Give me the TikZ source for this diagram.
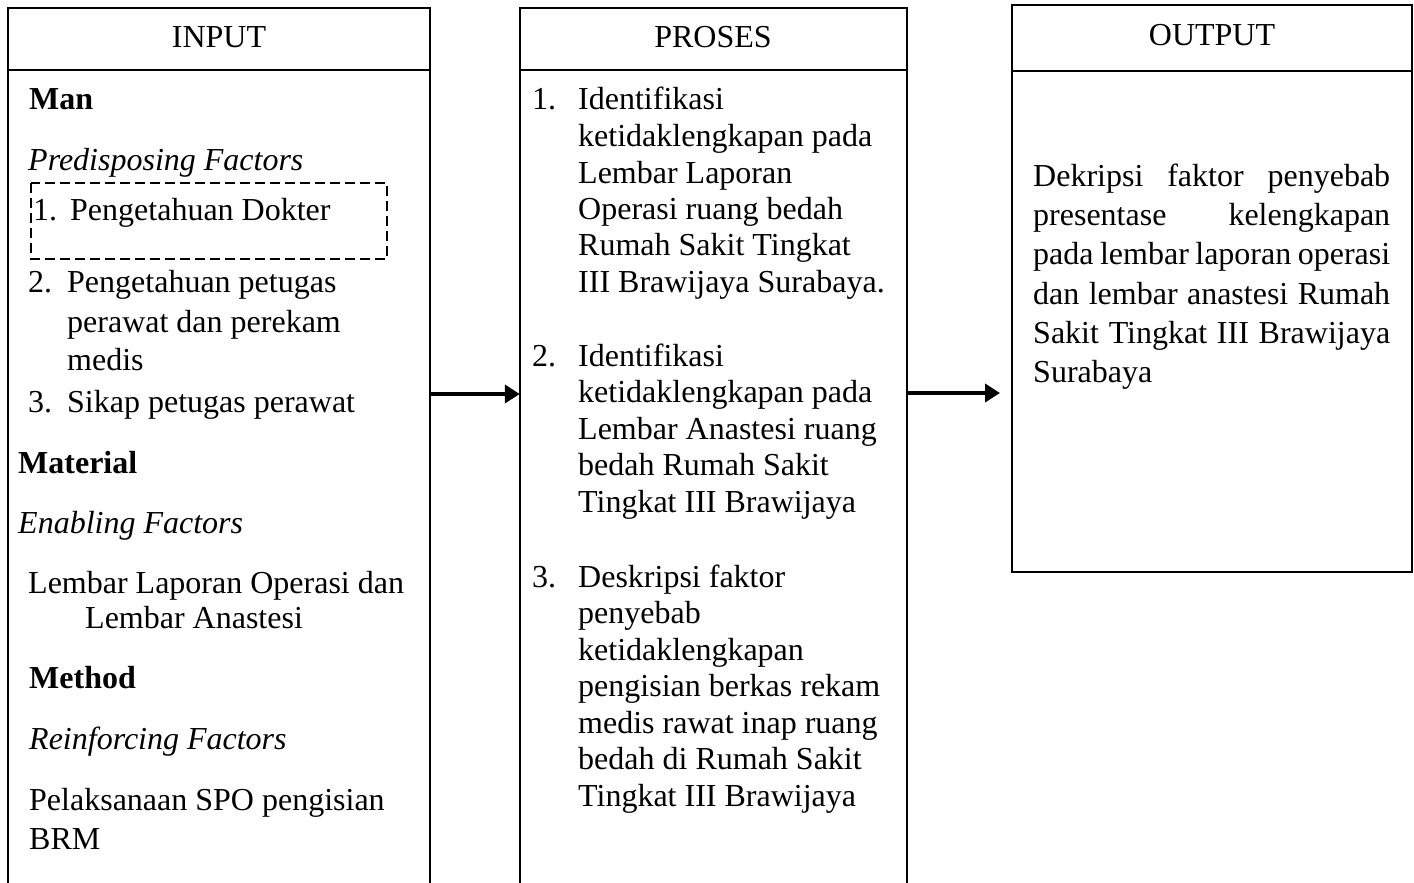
\documentclass[tikz,border=0pt]{standalone}
\usepackage{fontspec}
\setmainfont{Liberation Serif}
\usetikzlibrary{arrows.meta}
\begin{document}
\begin{tikzpicture}[x=1pt,y=-1pt,
  txt/.style={anchor=base west,inner sep=0pt,font=\fontsize{32}{38}\selectfont},
  head/.style={anchor=base,inner sep=0pt,font=\fontsize{32}{38}\selectfont},
  boxline/.style={draw,line width=1.8pt},
  dashbox/.style={draw,line width=1.3pt,dash pattern=on 10pt off 5pt},
  arr/.style={line width=4pt,-{Triangle[length=15pt,width=18pt]}}]
\useasboundingbox (0,0) rectangle (1414,883);
\clip (0,0) rectangle (1414,883);
% boxes
\draw[boxline] (8,920) -- (8,8) -- (430,8) -- (430,920);
\draw[boxline] (8,70) -- (430,70);
\draw[boxline] (520,920) -- (520,8) -- (907,8) -- (907,920);
\draw[boxline] (520,70) -- (907,70);
\draw[boxline] (1012,5) rectangle (1412,572);
\draw[boxline] (1012,71) -- (1412,71);
\node[inner sep=0pt,minimum size=0pt] (inbox) at (430,394) {};
\node[inner sep=0pt,minimum size=0pt] (prin) at (520,394) {};
\node[inner sep=0pt,minimum size=0pt] (prout) at (907,393) {};
\coordinate (outtip) at (1000,393);
\draw[arr] (inbox) -- (prin);
\draw[arr] (prout) -- (outtip);
% headers
\node[head] (hin) at (219,48) {INPUT};
\node[head] (hpr) at (713,48) {PROSES};
\node[head] (hout) at (1212,46) {OUTPUT};
% dashed box
\draw[dashbox] (31,183) rectangle (387,259);
% INPUT column
\node[txt] (i1) at (29,110) {\textbf{Man}};
\node[txt] (i2) at (28,170) {\textit{Predisposing Factors}};
\node[txt] (i3n) at (33,220) {1.};
\node[txt] (i3) at (70,220) {Pengetahuan Dokter};
\node[txt] (i4n) at (28,292) {2.};
\node[txt] (i4) at (67,292) {Pengetahuan petugas};
\node[txt] (i5) at (67,332) {perawat dan perekam};
\node[txt] (i6) at (67,370) {medis};
\node[txt] (i7n) at (28,412) {3.};
\node[txt] (i7) at (67,412) {Sikap petugas perawat};
\node[txt] (i8) at (18,473) {\textbf{Material}};
\node[txt] (i9) at (18,533) {\textit{Enabling Factors}};
\node[txt] (i10) at (28,593) {Lembar Laporan Operasi dan};
\node[txt] (i11) at (85,628) {Lembar Anastesi};
\node[txt] (i12) at (29,688) {\textbf{Method}};
\node[txt] (i13) at (29,749) {\textit{Reinforcing Factors}};
\node[txt] (i14) at (29,810) {Pelaksanaan SPO pengisian};
\node[txt] (i15) at (29,849) {BRM};
% PROSES column
\node[txt] (p1n) at (532,110) {1.};
\node[txt] (p1a) at (578,110) {Identifikasi};
\node[txt] (p1b) at (578,146.5) {ketidaklengkapan pada};
\node[txt] (p1c) at (578,183) {Lembar Laporan};
\node[txt] (p1d) at (578,219) {Operasi ruang bedah};
\node[txt] (p1e) at (578,255.5) {Rumah Sakit Tingkat};
\node[txt] (p1f) at (578,292) {III Brawijaya Surabaya.};
\node[txt] (p2n) at (532,366) {2.};
\node[txt] (p2a) at (578,366) {Identifikasi};
\node[txt] (p2b) at (578,402.5) {ketidaklengkapan pada};
\node[txt] (p2c) at (578,439) {Lembar Anastesi ruang};
\node[txt] (p2d) at (578,475.5) {bedah Rumah Sakit};
\node[txt] (p2e) at (578,512) {Tingkat III Brawijaya};
\node[txt] (p3n) at (532,587) {3.};
\node[txt] (p3a) at (578,587) {Deskripsi faktor};
\node[txt] (p3b) at (578,623.5) {penyebab};
\node[txt] (p3c) at (578,660) {ketidaklengkapan};
\node[txt] (p3d) at (578,696.5) {pengisian berkas rekam};
\node[txt] (p3e) at (578,733) {medis rawat inap ruang};
\node[txt] (p3f) at (578,769.5) {bedah di Rumah Sakit};
\node[txt] (p3g) at (578,806) {Tingkat III Brawijaya};
% OUTPUT column
\node[txt] (o1) at (1033,186) {\makebox[357pt][s]{Dekripsi faktor penyebab}};
\node[txt] (o2) at (1033,225) {\makebox[357pt][s]{presentase kelengkapan}};
\node[txt] (o3) at (1033,264.5) {\makebox[357pt][s]{pada lembar laporan operasi}};
\node[txt] (o4) at (1033,304) {\makebox[357pt][s]{dan lembar anastesi Rumah}};
\node[txt] (o5) at (1033,343) {\makebox[357pt][s]{Sakit Tingkat III Brawijaya}};
\node[txt] (o6) at (1033,382) {Surabaya};
\end{tikzpicture}
\end{document}
